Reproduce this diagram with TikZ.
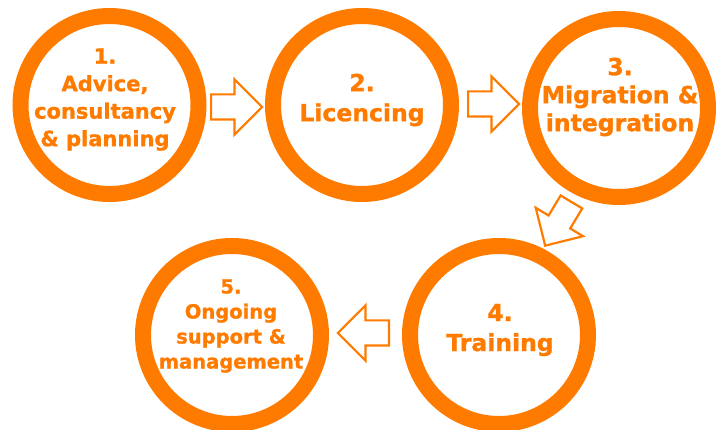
\documentclass[tikz,border=0pt]{standalone}
\usepackage{fontspec}
\setmainfont{DejaVu Sans}
\newfontfamily\stagefont[FakeBold=1.2]{DejaVu Sans Bold}
\usetikzlibrary{shapes.arrows}
\definecolor{stageorange}{RGB}{255,123,0}

\begin{document}
\begin{tikzpicture}[x=1pt,y=-1pt,
    stage/.style={circle,
          draw = stageorange,
          line width = 16pt,
          minimum size = 178pt,
          inner sep = 0pt},
    stagetext/.style 2 args={text = stageorange,
          align = center,
          inner sep = 0pt,
          font = \stagefont\fontsize{#1}{#2}\selectfont},
    blockarrow/.style={single arrow,
          draw = stageorange,
          fill = white,
          line width = 2.2pt,
          inner sep = 11.5pt,
          minimum height = 51pt,
          single arrow head extend = 15pt,
          anchor = tail}]

    \useasboundingbox (0,0) rectangle (723,430);

    % stages
    \node[stage] (adv) at (109.5,105) {};
    \node[stagetext={21}{27.5}] (advlab) at (105,99.5) {1.\\Advice,\\consultancy\\\& planning};

    \node[stage] (lic) at (362,105) {};
    \node[stagetext={23.5}{30}] (liclab) at (362,100) {2.\\Licencing};

    \node[stage] (mig) at (619,108) {};
    \node[stagetext={23.5}{28}] (miglab) at (620,97) {3.\\Migration \&\\integration};

    \node[stage] (trn) at (499,335) {};
    \node[stagetext={23.5}{30}] (trnlab) at (500,330) {4.\\Training};

    \node[stage] (sup) at (232,335) {};
    \node[stagetext={19.5}{25}] (suplab) at (231,326) {5.\\Ongoing\\support \&\\management};

    % arrows between stages
    \node[blockarrow] (a12) at (210,107) {};
    \node[blockarrow] (a23) at (467,104) {};
    \node[blockarrow, rotate=-121] (a34) at (572,201) {};
    \node[blockarrow, rotate=180] (a45) at (390,333) {};

\end{tikzpicture}
\end{document}
